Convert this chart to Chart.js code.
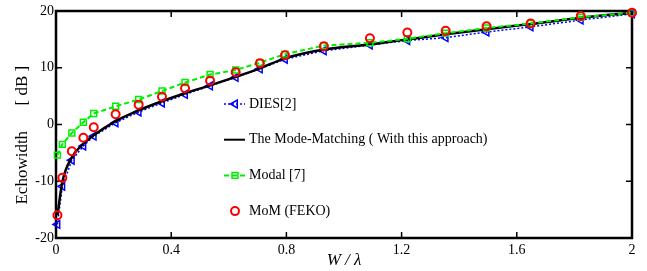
<!DOCTYPE html>
<html>
<head>
<meta charset="utf-8">
<script src="https://cdn.jsdelivr.net/npm/chart.js@4.4.1/dist/chart.umd.min.js"></script>
<style>
  html, body { margin: 0; padding: 0; background: #fff; }
</style>
</head>
<body>
<canvas id="echoChart" width="647" height="271"></canvas>
<script>
// W / lambda sample positions (same for every curve)
const widths = [0.005, 0.022, 0.055, 0.095, 0.131, 0.207, 0.287, 0.368, 0.448, 0.535, 0.624,
                0.708, 0.795, 0.93, 1.09, 1.22, 1.353, 1.495, 1.648, 1.822, 2.0];

// Echowidth in dB
const diesValues   = [-17.6, -10.9, -6.3, -3.8, -2.05, 0.3, 2.2, 3.8, 5.3, 6.8, 8.3,
                      9.8, 11.5, 13.0, 14.0, 14.8, 15.3, 16.3, 17.2, 18.4, 19.5];
const modeMatching = [-16.0, -10.1, -5.8, -3.4, -1.9, 0.6, 2.5, 4.1, 5.5, 6.9, 8.4,
                      9.9, 11.65, 13.2, 14.1, 15.0, 15.9, 16.8, 17.7, 18.8, 19.7];
const modalValues  = [-5.4, -3.5, -1.5, 0.4, 1.95, 3.2, 4.4, 5.9, 7.4, 8.8, 9.6,
                      10.9, 12.4, 13.9, 14.4, 15.1, 16.1, 17.0, 17.8, 18.9, 19.7];
const momValues    = [-16.0, -9.4, -4.7, -2.35, -0.5, 1.8, 3.5, 4.9, 6.4, 7.7, 9.2,
                      10.8, 12.2, 13.8, 15.2, 16.2, 16.5, 17.3, 17.8, 19.1, 19.7];

const xTickValues = [0, 0.4, 0.8, 1.2, 1.6, 2];
const yTickValues = [-20, -10, 0, 10, 20];
const seriesLabels = ['DIES[2]', 'The Mode-Matching ( With this approach)', 'Modal [7]', 'MoM (FEKO)'];

const SERIF = '"Liberation Serif", "Times New Roman", serif';

function toPoints(values) {
    return widths.map((w, i) => ({ x: w, y: values[i] }));
}

// cadre + petits traits vers l'intérieur (style matlab)
const framePlugin = {
    id: 'frame',
    beforeDatasetsDraw(chart) {
        const { ctx, chartArea: a, scales } = chart;
        ctx.save();
        ctx.strokeStyle = '#000';
        ctx.lineWidth = 1.5;
        ctx.beginPath();
        xTickValues.forEach(v => {
            const px = scales.x.getPixelForValue(v);
            ctx.moveTo(px, a.bottom); ctx.lineTo(px, a.bottom - 6);
            ctx.moveTo(px, a.top); ctx.lineTo(px, a.top + 6);
        });
        yTickValues.forEach(v => {
            const py = scales.y.getPixelForValue(v);
            ctx.moveTo(a.left, py); ctx.lineTo(a.left + 6, py);
            ctx.moveTo(a.right, py); ctx.lineTo(a.right - 6, py);
        });
        ctx.stroke();
        ctx.lineWidth = 2.5;
        ctx.strokeRect(a.left, a.top, a.right - a.left, a.bottom - a.top);
        ctx.restore();
    }
};

// légende dessinée à la main à l'intérieur du graphe
const legendPlugin = {
    id: 'innerLegend',
    afterDraw(chart) {
        const { ctx } = chart;
        const x0 = 224, x1 = 245, y0 = 104, gap = 35.7;
        ctx.save();
        chart.data.datasets.forEach((ds, i) => {
            const y = y0 + gap * i;
            if (ds.showLine !== false) {
                ctx.beginPath();
                ctx.strokeStyle = ds.borderColor;
                ctx.lineWidth = Math.min(ds.borderWidth, 2);
                ctx.setLineDash(ds.borderDash || []);
                ctx.moveTo(x0, y);
                ctx.lineTo(x1, y);
                ctx.stroke();
                ctx.setLineDash([]);
            }
            if (ds.pointRadius > 0) {
                ctx.strokeStyle = ds.pointBorderColor;
                ctx.fillStyle = 'rgba(0,0,0,0)';
                ctx.lineWidth = ds.pointBorderWidth;
                Chart.helpers.drawPoint(ctx, {
                    pointStyle: ds.pointStyle,
                    rotation: ds.pointRotation || 0,
                    radius: ds.pointRadius,
                    borderWidth: ds.pointBorderWidth
                }, (x0 + x1) / 2 + 0.5, y);
            }
            ctx.fillStyle = '#000';
            ctx.font = '14px ' + SERIF;
            ctx.textBaseline = 'middle';
            ctx.textAlign = 'left';
            ctx.fillText(ds.label, 249, y);
        });
        ctx.restore();
    }
};

const ctx = document.getElementById('echoChart').getContext('2d');
new Chart(ctx, {
    type: 'line',
    data: {
        datasets: [
            {
                label: seriesLabels[0],
                data: toPoints(diesValues),
                borderColor: '#0000ff',
                borderWidth: 1.5,
                borderDash: [2, 2],
                pointStyle: 'triangle',
                pointRotation: -90,
                pointRadius: 4.5,
                pointBorderWidth: 1.5,
                pointBorderColor: '#0000ff',
                pointBackgroundColor: 'rgba(0,0,0,0)',
                order: 3,
                clip: false
            },
            {
                label: seriesLabels[1],
                data: toPoints(modeMatching),
                borderColor: '#000000',
                borderWidth: 2.5,
                cubicInterpolationMode: 'monotone',
                pointRadius: 0,
                order: 2,
                clip: false
            },
            {
                label: seriesLabels[2],
                data: toPoints(modalValues),
                borderColor: '#00ee00',
                borderWidth: 2,
                borderDash: [5, 3],
                pointStyle: 'rect',
                pointRadius: 4.2,
                pointBorderWidth: 1.5,
                pointBorderColor: '#00ee00',
                pointBackgroundColor: 'rgba(0,0,0,0)',
                order: 1,
                clip: false
            },
            {
                label: seriesLabels[3],
                data: toPoints(momValues),
                showLine: false,
                borderColor: '#ff0000',
                borderWidth: 0,
                pointStyle: 'circle',
                pointRadius: 4,
                pointBorderWidth: 2,
                pointBorderColor: '#ff0000',
                pointBackgroundColor: 'rgba(0,0,0,0)',
                order: 0,
                clip: false
            }
        ]
    },
    options: {
        responsive: false,
        animation: false,
        layout: { padding: { left: 0, top: 11, right: 15, bottom: 0 } },
        plugins: {
            legend: { display: false },
            tooltip: { enabled: false }
        },
        scales: {
            x: {
                type: 'linear',
                min: 0,
                max: 2,
                afterBuildTicks: scale => { scale.ticks = xTickValues.map(v => ({ value: v })); },
                afterFit: scale => { scale.height = 33; },
                grid: { display: false, drawTicks: false },
                border: { display: false },
                ticks: {
                    padding: 4,
                    color: '#000',
                    font: { family: SERIF, size: 14 },
                    callback: v => String(Math.round(v * 10) / 10)
                },
                title: {
                    display: true,
                    text: 'W / λ',
                    color: '#000',
                    padding: { top: 0, bottom: 0 },
                    font: { family: SERIF, size: 17, style: 'italic' }
                }
            },
            y: {
                min: -20,
                max: 20,
                afterBuildTicks: scale => { scale.ticks = yTickValues.map(v => ({ value: v })); },
                afterFit: scale => { scale.width = 56; },
                grid: { display: false, drawTicks: false },
                border: { display: false },
                ticks: {
                    padding: 2,
                    color: '#000',
                    font: { family: SERIF, size: 14 },
                    callback: v => String(v)
                },
                title: {
                    display: true,
                    text: 'Echowidth      [ dB ]     ',
                    color: '#000',
                    padding: { top: 12, bottom: 0 },
                    font: { family: SERIF, size: 17 }
                }
            }
        }
    },
    plugins: [framePlugin, legendPlugin]
});
</script>
</body>
</html>
